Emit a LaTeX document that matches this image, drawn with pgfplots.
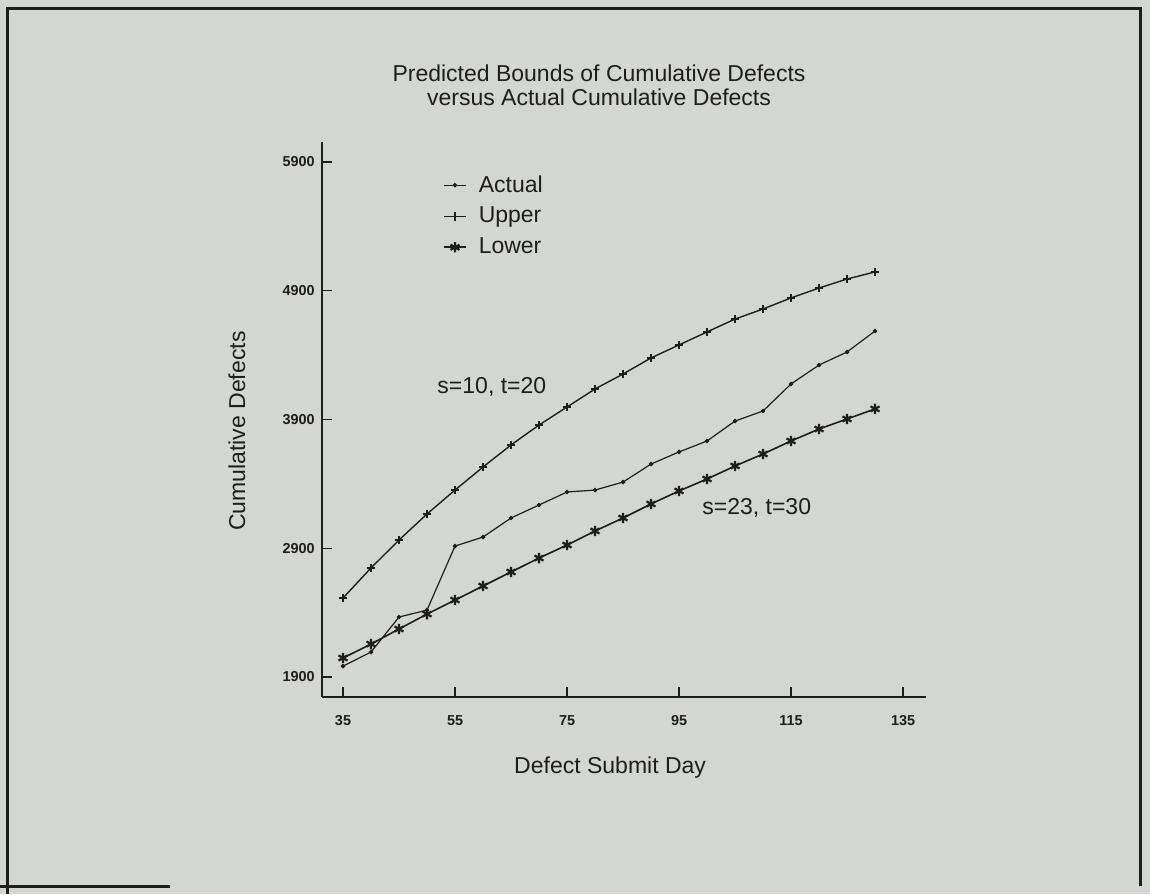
\documentclass[border=0pt]{standalone}
\usepackage{pgfplots}
\pgfplotsset{compat=1.18}
\usepackage{fontspec}
\setmainfont{Liberation Sans}
\definecolor{bg}{RGB}{212,214,210}
\definecolor{ink}{RGB}{30,30,30}

\begin{document}
\begin{tikzpicture}
  % page: 1150x894 px at 0.5pt per px
  \fill[bg] (0,0) rectangle (575pt,447pt);
  \path[use as bounding box] (0,0) rectangle (575pt,447pt);
  \draw[ink, line width=1.5pt] (3.5pt,0pt) -- (3.5pt,442.5pt) -- (570pt,442.5pt) -- (570pt,4pt);
  \draw[ink, line width=1.5pt] (0pt,4pt) -- (85pt,4pt);

  \node[align=center, font=\fontsize{11.5}{12}\selectfont, text=ink] at (299.5pt,404.5pt)
    {Predicted Bounds of Cumulative Defects\\versus Actual Cumulative Defects};

  \begin{axis}[
      at={(161pt,98.5pt)}, anchor=south west,
      scale only axis, width=302pt, height=277.5pt,
      xmin=31.25, xmax=139.1, ymin=1745, ymax=6055,
      axis x line=bottom, axis y line=left,
      axis line style={-, ink, line width=0.9pt},
      xtick={35,55,75,95,115,135},
      ytick={1900,2900,3900,4900,5900},
      tick align=inside, major tick length=5pt,
      tick style={ink, line width=0.7pt},
      /pgf/number format/assume math mode=true,
      /pgf/number format/1000 sep={},
      ticklabel style={font=\fontsize{7.2}{8}\selectfont\bfseries, text=ink, inner sep=0pt},
      xticklabel style={anchor=north, yshift=-9pt},
      yticklabel style={anchor=east, xshift=-3.5pt},
      xlabel={Defect Submit Day},
      ylabel={Cumulative Defects},
      label style={font=\fontsize{11.5}{13}\selectfont, text=ink},
      xlabel style={at={(axis description cs:0.477,-0.128)}, anchor=center},
      ylabel style={at={(axis description cs:-0.141,0.479)}, anchor=center},
      legend style={draw=none, fill=none, at={(rel axis cs:0.19,0.955)}, anchor=north west,
        font=\fontsize{11.5}{13}\selectfont, text=ink, row sep=2pt,
        /tikz/every odd column/.append style={column sep=4pt}},
      legend cell align=left,
      legend image code/.code={
        \draw[mark repeat=2, mark phase=2, #1] plot coordinates {(0pt,0pt) (5.5pt,0pt) (11pt,0pt)};
      },
    ]
    \addplot[ink, line width=0.6pt, mark=*, mark size=0.8pt] coordinates {
      (35,1985) (40,2094) (45,2366) (50,2420) (55,2917) (60,2987) (65,3135)
      (70,3236) (75,3337) (80,3352) (85,3414) (90,3554) (95,3648) (100,3733)
      (105,3888) (110,3966) (115,4176) (120,4323) (125,4424) (130,4587)};
    \addlegendentry{Actual}
    \addplot[ink, line width=0.7pt, mark=+, mark size=2.2pt,
      mark options={line width=0.9pt}] coordinates {
      (35,2514) (40,2747) (45,2964) (50,3166) (55,3352) (60,3531) (65,3702)
      (70,3857) (75,3997) (80,4137) (85,4253) (90,4378) (95,4479) (100,4580)
      (105,4680) (110,4758) (115,4844) (120,4921) (125,4991) (130,5046)};
    \addlegendentry{Upper}
    \addplot[ink, line width=0.8pt, mark=asterisk, mark size=2.6pt,
      mark options={line width=1.1pt}] coordinates {
      (35,2048) (40,2156) (45,2273) (50,2389) (55,2498) (60,2607) (65,2716)
      (70,2824) (75,2925) (80,3034) (85,3135) (90,3244) (95,3345) (100,3438)
      (105,3539) (110,3632) (115,3733) (120,3826) (125,3904) (130,3982)};
    \addlegendentry{Lower}

    \node[anchor=west, inner sep=0pt, font=\fontsize{11.5}{13}\selectfont, text=ink]
      at (axis cs:51.8,4152) {s=10, t=20};
    \node[anchor=west, inner sep=0pt, font=\fontsize{11.5}{13}\selectfont, text=ink]
      at (axis cs:99.1,3213) {s=23, t=30};
  \end{axis}
\end{tikzpicture}
\end{document}
